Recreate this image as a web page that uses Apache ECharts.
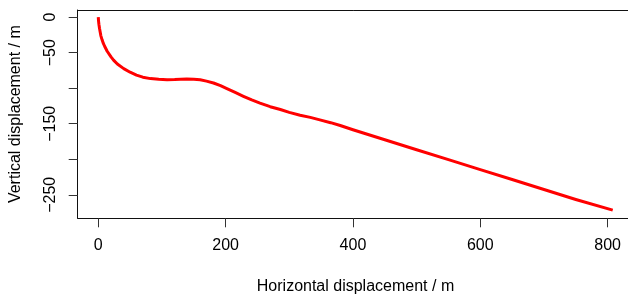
<!DOCTYPE html>
<html>
<head>
<meta charset="utf-8">
<script src="https://cdn.jsdelivr.net/npm/echarts@6/dist/echarts.min.js"></script>
<style>
  html, body { margin: 0; padding: 0; background: #fff; }
  #chart { width: 628px; height: 296px; }
</style>
</head>
<body>
<div id="chart"></div>
<script>
// (m)
const xValues = [0, 0.5, 1, 2, 3, 4, 6, 8, 10, 14, 20, 24, 30, 40, 50, 60, 70, 82, 95, 108, 120, 139, 150, 160, 170, 181, 192, 202, 215, 228, 241, 254, 270, 286, 300, 317, 333, 348, 365, 380, 400, 450, 500, 550, 600, 650, 700, 750, 808]
const yValues = [0, -6, -10, -16, -21, -26, -32, -37, -41, -48, -56, -60.5, -66, -72.5, -77.5, -81.5, -84.5, -86.5, -87.5, -88, -87.8, -87, -87.3, -88, -90, -92.7, -96.5, -100.6, -106, -111.4, -116.5, -121, -126, -130, -134, -138, -141, -144.5, -148.5, -152.5, -158.5, -172.5, -186.5, -200.5, -214.5, -228.5, -242.5, -256.5, -271.5]
const xTicks = [0, 200, 400, 600, 800]
const yTicks = [0, -50, -100, -150, -200, -250]
const yTickLabels = [0, -50, -150, -250]

const font = 'Liberation Sans, Arial, sans-serif'
const minus = v => (v < 0 ? '\u2212' + Math.abs(v) : String(v))
const xMin = -32.3
const xMax = 840.3

const chart = echarts.init(document.getElementById('chart'))
chart.setOption({
  animation: false,
  grid: {
    left: 77.7,
    right: -5.3,
    top: 10,
    bottom: 77.7,
    containLabel: false,
    outerBoundsMode: 'none'
  },
  xAxis: [{
    type: 'value',
    position: 'bottom',
    min: xMin,
    max: xMax,
    name: 'Horizontal displacement / m',
    nameLocation: 'middle',
    nameGap: 60,
    nameMoveOverlap: false,
    nameTextStyle: { fontFamily: font, fontSize: 16, color: '#000' },
    splitLine: { show: false },
    axisLine: { show: true, onZero: false, lineStyle: { color: '#111', width: 1 } },
    axisTick: {
      show: true,
      length: 9,
      customValues: xTicks,
      lineStyle: { color: '#333', width: 1 }
    },
    axisLabel: {
      customValues: xTicks,
      margin: 19,
      fontFamily: font,
      fontSize: 16,
      color: '#000',
      formatter: minus
    }
  }, {
    // top edge of the box
    type: 'value',
    position: 'top',
    min: xMin,
    max: xMax,
    splitLine: { show: false },
    axisLine: { show: true, onZero: false, lineStyle: { color: '#111', width: 1 } },
    axisTick: { show: false },
    axisLabel: { show: false }
  }],
  yAxis: {
    type: 'value',
    min: -283,
    max: 10,
    name: 'Vertical displacement / m',
    nameLocation: 'middle',
    nameRotate: 90,
    nameGap: 54,
    nameMoveOverlap: false,
    nameTextStyle: { fontFamily: font, fontSize: 16, color: '#000' },
    splitLine: { show: false },
    axisLine: { show: true, onZero: false, lineStyle: { color: '#111', width: 1 } },
    axisTick: {
      show: true,
      length: 9,
      customValues: yTicks,
      lineStyle: { color: '#333', width: 1 }
    },
    axisLabel: {
      customValues: yTickLabels,
      rotate: 90,
      margin: 19,
      fontFamily: font,
      fontSize: 16,
      color: '#000',
      formatter: minus
    }
  },
  series: [{
    type: 'line',
    xAxisIndex: 0,
    data: xValues.map((x, i) => [x, yValues[i]]),
    showSymbol: false,
    smooth: false,
    lineStyle: { color: '#ff0000', width: 3, join: 'round' }
  }]
})
</script>
</body>
</html>
